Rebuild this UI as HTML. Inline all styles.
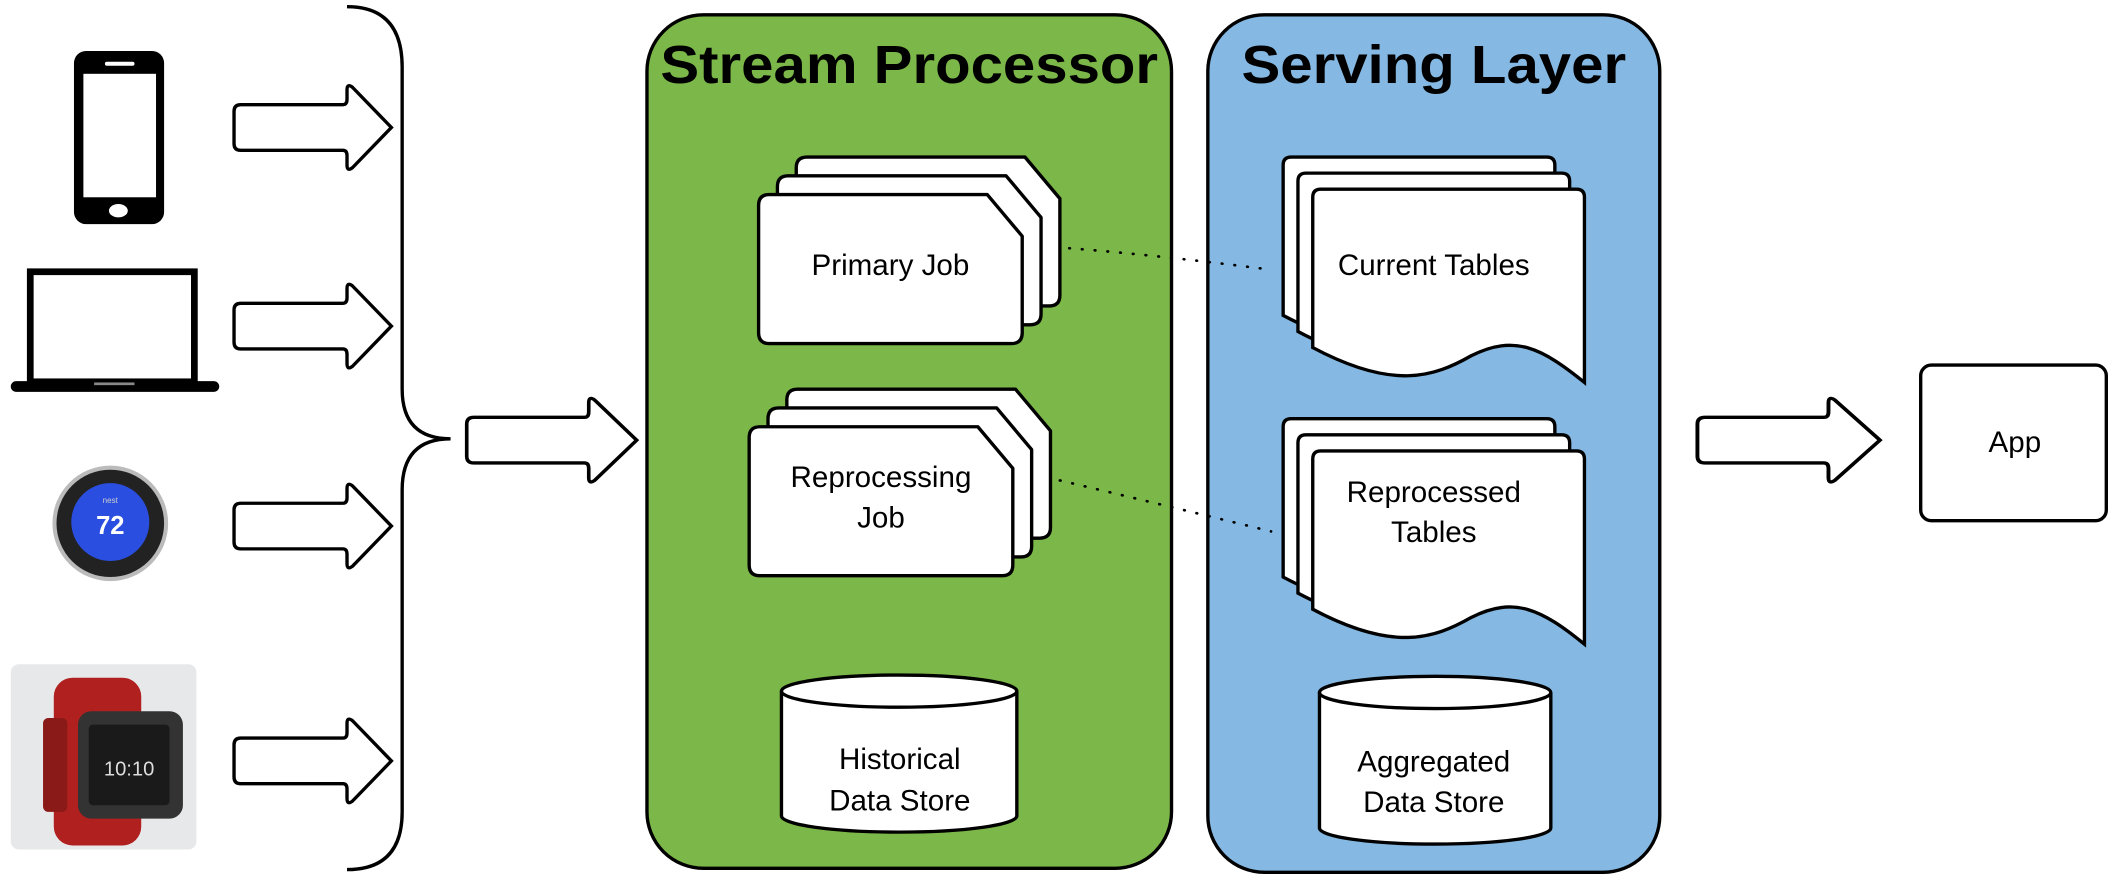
<!DOCTYPE html>
<html><head><meta charset="utf-8"><style>html,body{margin:0;padding:0;background:#fff}svg{display:block}</style></head>
<body>
<svg width="2109" height="879" viewBox="0 0 1568 655" preserveAspectRatio="none" xmlns="http://www.w3.org/2000/svg" font-family="Liberation Sans, sans-serif">
<defs>
<path id="arr" d="M5,-17 H81 Q84,-17 84,-21 V-28 Q84,-33 88,-30 L117,0 L88,30 Q84,33 84,28 V21 Q84,17 81,17 H5 Q0,17 0,12 V-12 Q0,-17 5,-17 Z" fill="#fff" stroke="#000" stroke-width="2.5"/>
<path id="card" d="M8,0 H170 L196,31 V103 Q196,111 188,111 H8 Q0,111 0,103 V8 Q0,0 8,0 Z" fill="#fff" stroke="#000" stroke-width="2.5" stroke-linejoin="round"/>
<path id="doc" d="M6,0 H196 Q202,0 202,6 V144 C170,118 150,108 118,124 C90,140 60,150 0,118 V6 Q0,0 6,0 Z" fill="#fff" stroke="#000" stroke-width="2.5"/>
</defs>
<!-- phone -->
<rect x="55" y="38" width="67" height="129" rx="9" fill="#000"/>
<rect x="62" y="55" width="54" height="92" fill="#fff"/>
<rect x="78" y="46" width="22" height="3" rx="1.5" fill="#fff"/>
<ellipse cx="88" cy="157" rx="7" ry="5" fill="#fff"/>
<!-- laptop -->
<rect x="22.5" y="202.5" width="122" height="82" fill="#fff" stroke="#000" stroke-width="5"/>
<rect x="8" y="284" width="155" height="8" rx="4" fill="#000"/>
<rect x="70" y="285" width="30" height="2" fill="#888"/>
<!-- nest -->
<circle cx="82" cy="390" r="43" fill="#bbb"/>
<circle cx="82" cy="390" r="40" fill="#222"/>
<circle cx="82" cy="389" r="29" fill="#2a4fe0"/>
<text x="82" y="398" font-size="19" font-weight="bold" fill="#fff" text-anchor="middle">72</text>
<text x="82" y="375" font-size="6" fill="#ccc" text-anchor="middle">nest</text>
<!-- watch -->
<rect x="8" y="495" width="138" height="138" rx="6" fill="#e6e8ea"/>
<rect x="40" y="505" width="65" height="125" rx="14" fill="#b0201f"/>
<rect x="32" y="535" width="18" height="70" rx="4" fill="#8a1a18"/>
<rect x="58" y="530" width="78" height="80" rx="10" fill="#333"/>
<rect x="66" y="540" width="60" height="60" rx="3" fill="#1a1a1a"/>
<text x="96" y="578" font-size="15" fill="#ddd" text-anchor="middle">10:10</text>
<!-- arrows -->
<use href="#arr" x="174" y="95"/><use href="#arr" x="174" y="243"/>
<use href="#arr" x="174" y="392"/><use href="#arr" x="174" y="567"/>
<g transform="translate(347,328) scale(1.08,1)"><use href="#arr"/></g>
<g transform="translate(1262,328) scale(1.16,1)"><use href="#arr"/></g>
<!-- brace -->
<path d="M258,5 Q299,5 299,50 V290 Q299,327 335,327 Q299,327 299,365 V605 Q299,648 258,648" fill="none" stroke="#000" stroke-width="2.5"/>
<!-- green -->
<rect x="481" y="11" width="390" height="636" rx="42" fill="#7cb749" stroke="#000" stroke-width="2.5"/>
<text x="676" y="62" font-size="40" font-weight="bold" text-anchor="middle" textLength="370" lengthAdjust="spacingAndGlyphs">Stream Processor</text>
<!-- blue -->
<rect x="898" y="11" width="336" height="639" rx="42" fill="#85b9e3" stroke="#000" stroke-width="2.5"/>
<text x="1066" y="62" font-size="40" font-weight="bold" text-anchor="middle" textLength="286" lengthAdjust="spacingAndGlyphs">Serving Layer</text>
<!-- cards -->
<use href="#card" x="592" y="117"/><use href="#card" x="578" y="131"/><use href="#card" x="564" y="145"/>
<text x="662" y="205" font-size="22" text-anchor="middle">Primary Job</text>
<use href="#card" x="585" y="290"/><use href="#card" x="571" y="304"/><use href="#card" x="557" y="318"/>
<text x="655" y="363" font-size="22" text-anchor="middle">Reprocessing</text>
<text x="655" y="393" font-size="22" text-anchor="middle">Job</text>
<!-- cylinders -->
<path d="M581,515 V608 A87,12 0 0 0 756,608 V515" fill="#fff" stroke="#000" stroke-width="2.5"/>
<ellipse cx="668.5" cy="515" rx="87.5" ry="12" fill="#fff" stroke="#000" stroke-width="2.5"/>
<text x="669" y="573" font-size="22" text-anchor="middle">Historical</text>
<text x="669" y="604" font-size="22" text-anchor="middle">Data Store</text>
<path d="M981,516 V617 A86,12 0 0 0 1153,617 V516" fill="#fff" stroke="#000" stroke-width="2.5"/>
<ellipse cx="1067" cy="516" rx="86" ry="12" fill="#fff" stroke="#000" stroke-width="2.5"/>
<text x="1066" y="575" font-size="22" text-anchor="middle">Aggregated</text>
<text x="1066" y="605" font-size="22" text-anchor="middle">Data Store</text>
<!-- docs -->
<use href="#doc" x="954" y="117"/><use href="#doc" x="965" y="129"/><use href="#doc" x="976" y="141"/>
<text x="1066" y="205" font-size="22" text-anchor="middle">Current Tables</text>
<use href="#doc" x="954" y="312"/><use href="#doc" x="965" y="324"/><use href="#doc" x="976" y="336"/>
<text x="1066" y="374" font-size="22" text-anchor="middle">Reprocessed</text>
<text x="1066" y="404" font-size="22" text-anchor="middle">Tables</text>
<!-- dotted -->
<path d="M795,185 Q860,190 945,201" fill="none" stroke="#000" stroke-width="2" stroke-dasharray="0.5 9" stroke-linecap="round"/>
<path d="M788,358 Q860,375 945,396" fill="none" stroke="#000" stroke-width="2" stroke-dasharray="0.5 9" stroke-linecap="round"/>
<!-- app -->
<rect x="1428" y="272" width="138" height="116" rx="8" fill="#fff" stroke="#000" stroke-width="2.5"/>
<text x="1498" y="337" font-size="22" text-anchor="middle">App</text>
</svg>
</body></html>
